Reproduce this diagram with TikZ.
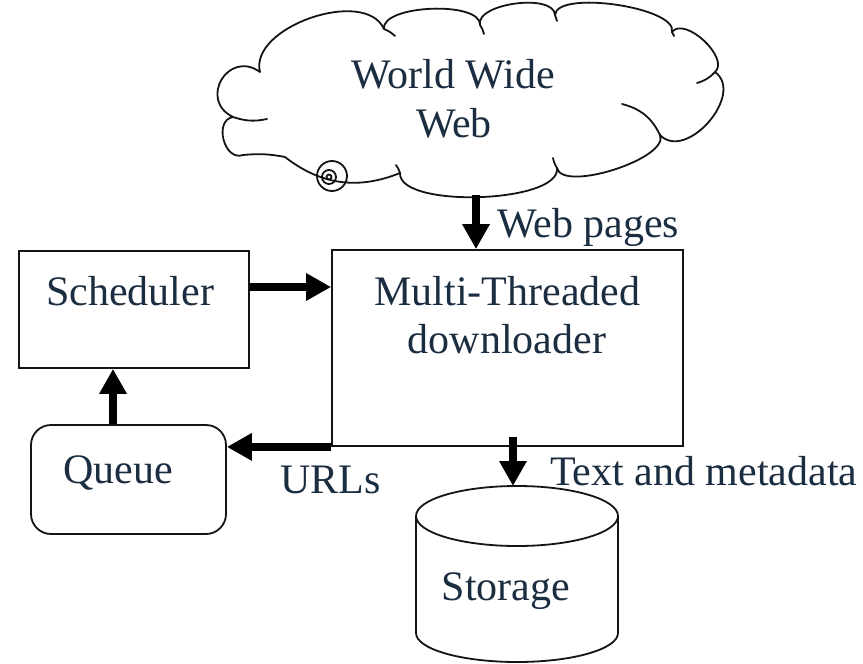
\documentclass[tikz,border=0pt]{standalone}
\usepackage{fontspec}
\setmainfont{Liberation Serif}
\newfontfamily\lserif{Liberation Serif}
\usetikzlibrary{arrows.meta}
\definecolor{txtc}{RGB}{27,45,64}
\definecolor{linec}{RGB}{20,20,20}
\tikzset{
  box/.style={draw=linec, line width=1.8pt, inner sep=0pt},
  lbl/.style={text=txtc, inner sep=0pt, font=\lserif\fontsize{42}{48}\selectfont},
  arr/.style={draw=black, line width=7.5pt, -{Triangle[length=25pt,width=26pt]}},
  cloudline/.style={draw=linec, line width=1.8pt, line join=round, line cap=round},
}
\begin{document}
\begin{tikzpicture}[x=1pt, y=-1pt]
\useasboundingbox (0,0) rectangle (863,664);

% ---------- cloud ----------
\draw[cloudline]
  (243,155) to[bend left=95, looseness=1.3] (233,117)
            to[bend left=95, looseness=1.9] (260,72)
            to[bend left=85, looseness=0.9] (384,29)
            to[bend left=95, looseness=0.65] (480,25)
            to[bend left=95, looseness=0.75] (555,15)
            to[bend left=95, looseness=0.55] (672,32)
            to[bend left=95, looseness=0.9] (715,72)
            to[bend left=95, looseness=1.15] (660,135)
            to[bend left=95, looseness=0.6] (557,168)
            to[bend left=95, looseness=0.58] (400,173)
            to[bend left=30] (285,157)
            to[bend right=8] (243,155);
% inner ticks of the cloud
\draw[cloudline] (233,117) to[bend right=15] (267,119);
\draw[cloudline] (384,29) to[bend left=10] (395,36);
\draw[cloudline] (480,25) to[bend left=10] (484,34);
\draw[cloudline] (555,15) -- (557,21);
\draw[cloudline] (672,32) -- (674,36);
\draw[cloudline] (715,72) to[bend left=15] (697,83);
\draw[cloudline] (660,135) to[bend right=25] (622,104);
\draw[cloudline] (557,168) to[bend left=10] (553,158);
\draw[cloudline] (400,173) to[bend right=10] (396,165);
% spiral
\draw[cloudline] (332,176) circle[radius=15];
\draw[cloudline] (329,177) circle[radius=7];
\draw[cloudline] (329,177) circle[radius=2.5];

\node[lbl, anchor=base] (www1) at (453,88) {World Wide};
\node[lbl, anchor=base] (www2) at (454,137) {Web};
\coordinate (cloudbot) at (476,195);

% ---------- boxes ----------
\node[box, minimum width=230, minimum height=117] (sched) at (134,309.5) {};
\node[box, minimum width=351, minimum height=196] (mtd) at (507.5,348) {};
\node[box, rounded corners=20pt, minimum width=195, minimum height=109] (queue) at (128.5,479.5) {};

\node[lbl, anchor=base] (schedtxt) at (130,305) {Scheduler};
\node[lbl, anchor=base] (mtdtxt1) at (507.5,305) {Multi-Threaded};
\node[lbl, anchor=base] (mtdtxt2) at (507,353) {downloader};
\node[lbl, anchor=base] (queuetxt) at (118,483) {Queue};

% ---------- storage cylinder ----------
\draw[cloudline, fill=white] (517,516) ellipse[x radius=101, y radius=30];
\draw[cloudline] (416,516) -- (416,633)
  .. controls (416,649) and (461,662) .. (517,662)
  .. controls (573,662) and (618,649) .. (618,633) -- (618,516);
\node[lbl, anchor=base] (storagetxt) at (506,600) {Storage};
\coordinate (sttop) at (513,486);
\coordinate (mtdout) at (513,437);

% ---------- labels ----------
\node[lbl, anchor=base west] (webpages) at (497,237) {Web pages};
\node[lbl, anchor=base west] (urls) at (280,493) {URLs};
\node[lbl, anchor=base west] (textmeta) at (550,485) {Text and metadata};

% ---------- connectors ----------
\coordinate (y1) at (0,287);
\coordinate (x1) at (113,0);
\draw[arr] (cloudbot) -- (cloudbot |- mtd.north);
\draw[arr] (sched.east |- y1) -- (mtd.west |- y1);
\draw[arr] (queue.north -| x1) -- (sched.south -| x1);
\draw[arr] (mtd.south west) -- (queue.east |- mtd.south west);
\draw[arr] (mtdout) -- (sttop);
\end{tikzpicture}
\end{document}
